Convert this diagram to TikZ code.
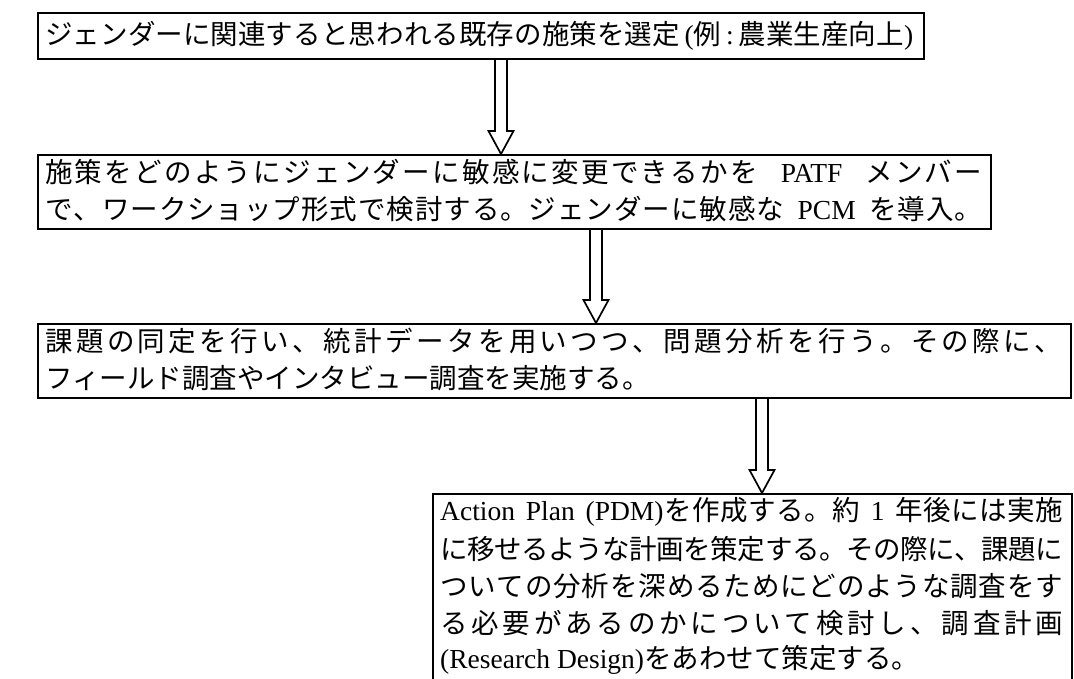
\documentclass[tikz,border=0pt]{standalone}
\usepackage{fontspec}
\setmainfont{Noto Sans CJK JP}
\newfontfamily\lat{Liberation Serif}
\usetikzlibrary{calc}
\makeatletter
% justified line: glue between every character (token / group)
\newcommand\jl[2]{\hbox to #1{\@tfor\jl@t:=#2\do{{\jl@t}\hskip0pt plus 1pt minus 1.5pt}\unskip}}
\makeatother
\newcommand\js{\hskip 0.25em plus 5pt}
\tikzset{
  boxline/.style={line width=2.2pt},
  harrow/.style={line width=1.7pt, line join=miter},
  txt/.style={anchor=west, inner sep=0pt, font=\fontsize{27.5}{37}\selectfont},
}
\newcommand{\hollowarrow}[3]{% x, from y, to y (y upward)
  \draw[harrow] (#1-6,#2) -- (#1-6,#3+23) -- (#1-12.5,#3+23) -- (#1,#3)
     -- (#1+12.5,#3+23) -- (#1+6,#3+23) -- (#1+6,#2);}
\begin{document}
\begin{tikzpicture}[x=1pt,y=1pt]
\clip (0,0) rectangle (1074,-679);
\fill[white] (0,0) rectangle (1074,-679);
% boxes
\node[draw, boxline, anchor=north west, minimum width=886, minimum height=46, inner sep=0pt] (b1) at (37,-12) {};
\node[draw, boxline, anchor=north west, minimum width=953, minimum height=74, inner sep=0pt] (b2) at (37,-154) {};
\node[draw, boxline, anchor=north west, minimum width=1033, minimum height=74, inner sep=0pt] (b3) at (37,-323) {};
\node[draw, boxline, anchor=north west, minimum width=639, minimum height=230, inner sep=0pt] (b4) at (432,-493) {};
% texts
\node[txt] (t1) at (45,-36) {\jl{868pt}{ジェンダーに関連すると思われる既存の施策を選定{\lat\,(}例{\lat\,:\,}農業生産向上{\lat)}}};
\node[txt] (t2a) at (45,-172) {\jl{937pt}{施策をどのようにジェンダーに敏感に変更できるかを{\js}{\lat PATF}{\js}メンバー}};
\node[txt] (t2b) at (45,-209) {\jl{937pt}{で、ワークショップ形式で検討する。ジェンダーに敏感な{\js}{\lat PCM}{\js}を導入。}};
\node[txt] (t3a) at (45,-341) {\jl{1017pt}{課題の同定を行い、統計データを用いつつ、問題分析を行う。その際に、}};
\node[txt] (t3b) at (45,-378) {フィールド調査やインタビュー調査を実施する。};
\node[txt] (t4a) at (440,-512) {\jl{623pt}{{\lat Action}{\js}{\lat Plan}{\js}{\lat (PDM)}を作成する。約{\js}{\lat 1}{\js}年後には実施}};
\node[txt] (t4b) at (440,-549) {\jl{623pt}{に移せるような計画を策定する。その際に、課題に}};
\node[txt] (t4c) at (440,-586) {\jl{623pt}{ついての分析を深めるためにどのような調査をす}};
\node[txt] (t4d) at (440,-623) {\jl{623pt}{る必要があるのかについて検討し、調査計画}};
\node[txt] (t4e) at (440,-660) {{\lat (Research Design)}をあわせて策定する。};
% arrows
\coordinate (a1) at (501,0);
\coordinate (a2) at (596,0);
\coordinate (a3) at (762,0);
\path let \p1=(a1|-b1.south), \p2=(a1|-b2.north) in \pgfextra{\hollowarrow{\x1}{\y1}{\y2}};
\path let \p1=(a2|-b2.south), \p2=(a2|-b3.north) in \pgfextra{\hollowarrow{\x1}{\y1}{\y2}};
\path let \p1=(a3|-b3.south), \p2=(a3|-b4.north) in \pgfextra{\hollowarrow{\x1}{\y1}{\y2}};
\end{tikzpicture}
\end{document}
